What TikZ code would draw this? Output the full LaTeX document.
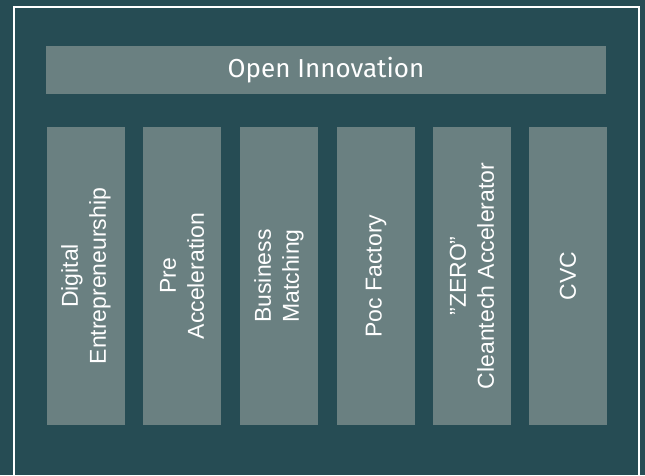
\documentclass[tikz,border=0pt]{standalone}
\usepackage{fontspec}
\setmainfont{Liberation Sans}
\newfontfamily\barfont{Fira Sans}
\usetikzlibrary{positioning}
\definecolor{bgteal}{HTML}{264C54}
\definecolor{boxgrey}{HTML}{6A8081}
\tikzset{
  bar node/.style={rectangle,fill=boxgrey,text=white,minimum width=560pt,minimum height=48pt,inner sep=0pt,font=\barfont\fontsize{26}{31}\selectfont},
  col node/.style={rectangle,fill=boxgrey,text=white,rotate=90,minimum width=298pt,minimum height=78pt,inner sep=0pt,align=center,font=\fontsize{23}{28}\selectfont},
}

\begin{document}
\begin{tikzpicture}[x=1pt,y=-1pt]
	\fill[bgteal] (0,0) rectangle (645,475);
	\useasboundingbox (0,0) rectangle (645,475);
	\draw[white, line width=2pt] (14,485) -- (14,7) -- (639,7) -- (639,485);

	\node[bar node] (open) at (326,70) {Open Innovation};

	\node[col node] (digital) at (86,276) {Digital\\Entrepreneurship};
	\node[col node] (pre) at (182,276) {Pre\\Acceleration};
	\node[col node] (business) at (279,276) {Business\\Matching};
	\node[col node] (poc) at (376,276) {Poc Factory};
	\node[col node] (zero) at (472,276) {''ZERO''\\Cleantech Accelerator};
	\node[col node] (cvc) at (568,276) {CVC};
\end{tikzpicture}
\end{document}
